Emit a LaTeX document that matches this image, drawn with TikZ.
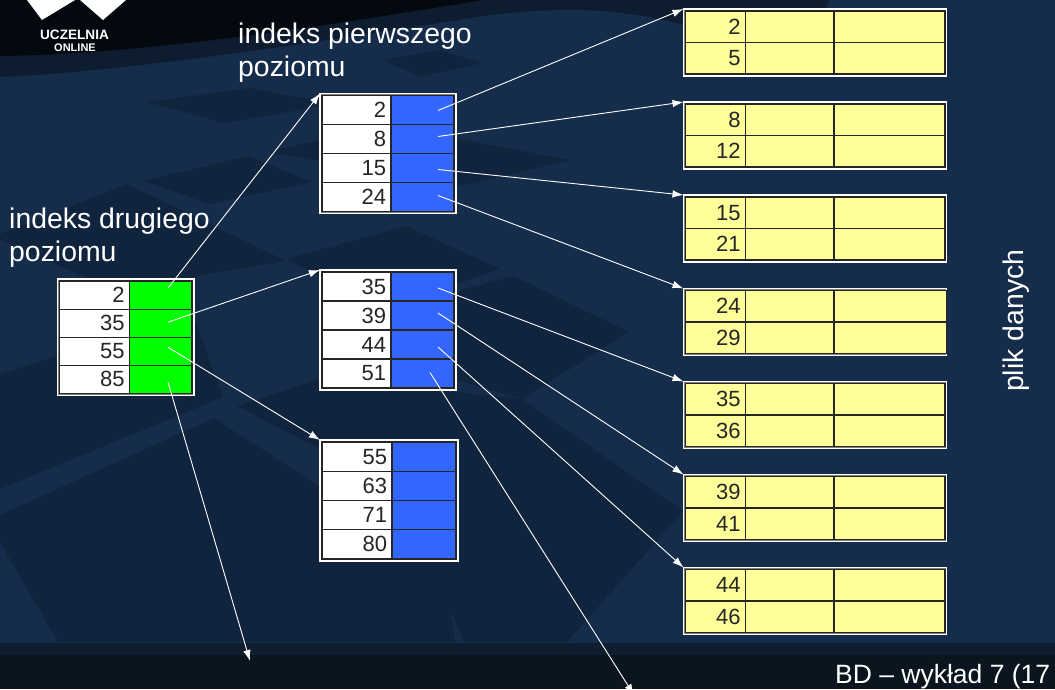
\documentclass[tikz,border=0pt]{standalone}
\usepackage{fontspec}
\usepackage{tikz}
\usetikzlibrary{arrows.meta}
\setmainfont{Liberation Sans}

\definecolor{navy}{HTML}{152C4A}
\definecolor{navydark}{HTML}{11243E}
\definecolor{night}{HTML}{0A1520}
\definecolor{strip}{HTML}{0F1E2F}
\definecolor{ink}{HTML}{04090F}
\definecolor{rim}{HTML}{0E1C2F}
\definecolor{ptrblue}{HTML}{3366FF}
\definecolor{ptrgreen}{HTML}{00FF00}
\definecolor{datayellow}{HTML}{FFFF99}

\begin{document}
\begin{tikzpicture}[x=1pt, y=-1pt,
	box/.style = {draw=white, fill=gray, line width=1.2pt, outer sep=0pt, inner sep=0pt, anchor=north west},
	cell/.style = {draw=black!85, line width=1.1pt, outer sep=0pt, inner sep=0pt, anchor=north west},
	keycell/.style = {cell, fill=white, inner xsep=5pt, align=right, text=black!85, font=\fontsize{22}{22}\selectfont},
	label/.style = {anchor=base west, inner sep=0pt, text=white, font=\fontsize{28.4}{28}\selectfont},
	link/.style = {draw=white, line width=0.9pt, -{Latex[length=11pt, width=7.5pt]}}]
	\useasboundingbox (0,0) rectangle (1055,689);
	% background
	\fill[navy] (0,0) rectangle (1055,689);
	\fill[navydark] (147,102) -- (250,88) -- (335,104) -- (223,123) -- cycle;
	\fill[navydark] (383,60) -- (440,50) -- (483,63) -- (420,77) -- cycle;
	\fill[navydark] (268,152) -- (384,125) -- (571,160) -- (460,186) -- cycle;
	\fill[navydark] (143,181) -- (248,156) -- (312,182) -- (210,204) -- cycle;
	\fill[navydark] (0,234) -- (127,184) -- (286,261) -- (116,290) -- (0,240) -- cycle;
	\fill[navydark] (286,259) -- (406,226) -- (500,269) -- (384,309) -- cycle;
	\fill[navydark] (379,313) -- (513,276) -- (629,332) -- (522,399) -- (357,351) -- cycle;
	\fill[navydark] (0,374) -- (192,313) -- (223,397) -- (0,489) -- cycle;
	\fill[navydark] (0,515) -- (214,418) -- (446,569) -- (455,642) -- (58,642) -- (0,542) -- cycle;
	\fill[navydark] (237,406) -- (321,378) -- (522,399) -- (683,511) -- (567,642) -- (464,642) -- (400,490) -- cycle;
	\fill[rim] (0,0) -- (0,77) .. controls (120,72) and (300,45) .. (483,16) .. controls (560,6) and (620,8) .. (680,24) .. controls (720,34) and (760,40) .. (800,60) -- (830,0) -- cycle;
	\fill[ink] (0,0) -- (0,56) .. controls (150,54) and (330,25) .. (483,0) -- cycle;
	\fill[strip] (0,643) rectangle (1055,655);
	\fill[night] (0,655) rectangle (1055,689);
	% logo
	\fill[white] (27,0) -- (42,20) -- (75,0) -- cycle;
	\fill[white] (80,0) -- (103,20) -- (126,0) -- cycle;
	\node[inner sep=0pt, anchor=base, text=white, font=\bfseries\fontsize{13.6}{14}\selectfont] (logo1) at (74.5,39.5) {UCZELNIA};
	\node[inner sep=0pt, anchor=base, text=white, font=\bfseries\fontsize{11}{11}\selectfont] (logo2) at (75,51) {ONLINE};
	% labels
	\node[label] (lab1) at (238,43) {indeks pierwszego};
	\node[label] (lab2) at (238,76) {poziomu};
	\node[label] (lab3) at (9,228) {indeks drugiego};
	\node[label] (lab4) at (9,261) {poziomu};
	\node[label, rotate=90] (lab5) at (1023,392) {plik danych};
	\node[label, font=\fontsize{26.5}{27}\selectfont] (lab6) at (835,683) {BD – wykład 7 (17};
	% index tables
	\foreach \n/\x/\y/\kw/\pw/\rh/\col/\a/\b/\c/\d in {
		iz/57.5/279/70/62.5/28.1/ptrgreen/2/35/55/85,
		ia/320/93.5/69/63/29/ptrblue/2/8/15/24,
		ib/320/270/69/63/29/ptrblue/35/39/44/51,
		ic/320/440/70/64/29.25/ptrblue/55/63/71/80} {
		\node[box, minimum width=\kw+\pw+4, minimum height=4*\rh+4] (\n) at (\x,\y) {};
		\foreach \i/\v in {1/\a,2/\b,3/\c,4/\d} {
			\node[keycell, text width=\kw-10, minimum height=\rh] (\n k\i) at (\x+2,\y+2+\i*\rh-\rh) {\v};
			\node[cell, fill=\col, minimum width=\pw, minimum height=\rh] (\n p\i) at (\x+2+\kw,\y+2+\i*\rh-\rh) {};
		}
	}
	% data tables
	\foreach \n/\y/\lw/\a/\b in {
		d1/9/111/2/5, d2/102/111/8/12, d3/195/111/15/21, d4/288.5/112.5/24/29,
		d5/381.5/111/35/36, d6/474.5/111/39/41, d7/567.5/111/44/46} {
		\node[box, minimum width=263, minimum height=67] (\n) at (683.5,\y) {};
		\foreach \i/\v in {1/\a,2/\b} {
			\node[keycell, fill=datayellow, text width=50, minimum height=31.5] (\n k\i) at (685.5,\y+2+\i*31.5-31.5) {\v};
			\node[cell, fill=datayellow, minimum width=88.5, minimum height=31.5] (\n m\i) at (745.5,\y+2+\i*31.5-31.5) {};
			\node[cell, fill=datayellow, minimum width=\lw, minimum height=31.5] (\n r\i) at (834,\y+2+\i*31.5-31.5) {};
		}
	}
	% pointers
	\coordinate (out1) at (250,661);
	\coordinate (out2) at (634,695);
	\draw[link] ([shift={(7.25,-7)}]izp1.center) -- (ia.north west);
	\draw[link] ([shift={(7.25,-1)}]izp2.center) -- (ib.north west);
	\draw[link] ([shift={(7.25,-4)}]izp3.center) -- (ic.north west);
	\draw[link] ([shift={(7.25,2.7)}]izp4.center) -- (out1);
	\draw[link] ([shift={(15.5,0.5)}]iap1.center) -- (d1.north west);
	\draw[link] ([shift={(15.5,-2.5)}]iap2.center) -- (d2.north west);
	\draw[link] ([shift={(15.5,1.5)}]iap3.center) -- (d3.north west);
	\draw[link] ([shift={(15.5,-1.5)}]iap4.center) -- (d4.north west);
	\draw[link] ([shift={(15.5,1.5)}]ibp1.center) -- (d5.north west);
	\draw[link] ([shift={(15.5,-2.5)}]ibp2.center) -- (d6.north west);
	\draw[link] ([shift={(15.5,2.5)}]ibp3.center) -- (d7.north west);
	\draw[link] ([shift={(7.5,-1)}]ibp4.center) -- (out2);
\end{tikzpicture}
\end{document}
